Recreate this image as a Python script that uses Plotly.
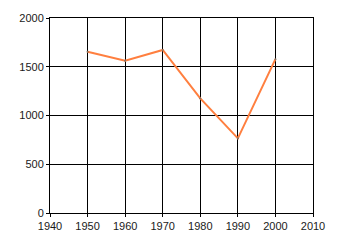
import plotly.graph_objects as go

years = [1950, 1960, 1970, 1980, 1990, 2000]
values = [1653, 1562, 1672, 1175, 766, 1578]
x_ticks = [1940, 1950, 1960, 1970, 1980, 1990, 2000, 2010]
y_ticks = [0, 500, 1000, 1500, 2000]

fig = go.Figure()
fig.add_trace(go.Scatter(
    x=years, y=values, mode="lines+markers",
    line=dict(color="#FF7F3F", width=2),
    marker=dict(color="#7F6F60", size=2),
    showlegend=False,
))
axis_common = dict(
    showgrid=True, gridcolor="black", gridwidth=1,
    showline=True, linecolor="black", linewidth=1, mirror=True,
    ticks="outside", ticklen=3, tickcolor="black", tickwidth=1,
    zeroline=False,
    tickfont=dict(family="Liberation Sans, Arial", size=11, color="#1a1a1a"),
)
fig.update_xaxes(range=[1940, 2010], tickvals=x_ticks,
                 ticktext=[str(t) for t in x_ticks], **axis_common)
fig.update_yaxes(range=[0, 2000], tickvals=y_ticks,
                 ticktext=[str(t) for t in y_ticks], **axis_common)
fig.update_layout(
    width=340, height=245,
    margin=dict(l=50, r=27, t=15, b=32),
    paper_bgcolor="white", plot_bgcolor="white",
)
fig.write_html("out.html")
